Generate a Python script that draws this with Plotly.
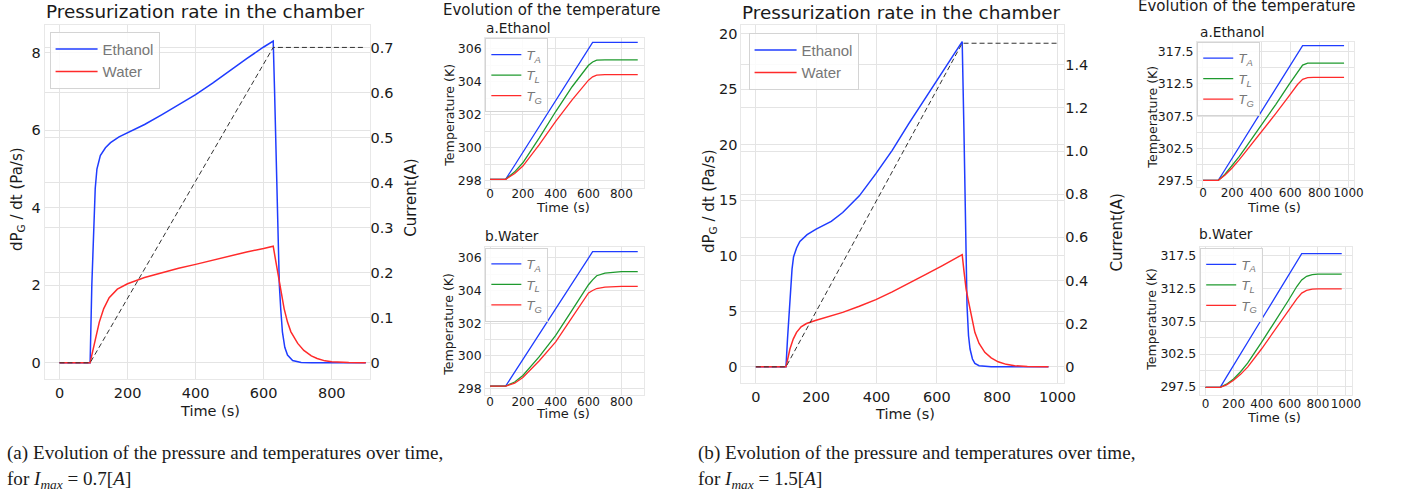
import plotly.graph_objects as go

W, H = 1411, 498

# ---- (a) I_max = 0.7 A : pressurization rate ----
t_eth_a = [0, 90, 95, 100, 105, 110, 120, 135, 150, 175, 200, 250, 300, 350, 400, 450, 500, 550, 600, 628,
           632, 636, 641, 646, 650, 655, 662, 670, 685, 710, 740, 900]
dp_eth_a = [0, 0, 2.0, 3.6, 4.5, 5.0, 5.35, 5.55, 5.68, 5.83, 5.94, 6.15, 6.4, 6.65, 6.92, 7.22, 7.54, 7.85, 8.15, 8.3,
            7.0, 5.5, 3.4, 2.0, 1.4, 0.8, 0.4, 0.2, 0.06, 0.01, 0, 0]
t_wat_a = [0, 90, 95, 102, 110, 117, 130, 146, 170, 200, 250, 300, 350, 400, 450, 500, 550, 600, 628,
           635, 641, 650, 660, 670, 680, 700, 718, 740, 757, 780, 800, 850, 900]
dp_wat_a = [0, 0, 0.2, 0.45, 0.75, 1.05, 1.4, 1.68, 1.9, 2.04, 2.2, 2.33, 2.44, 2.54, 2.65, 2.76, 2.86, 2.95, 3.01,
            2.65, 2.34, 1.85, 1.4, 1.05, 0.8, 0.5, 0.32, 0.18, 0.11, 0.05, 0.03, 0.01, 0]
t_cur_a = [0, 90, 628, 898]
cur_a = [0, 0, 0.7, 0.7]

# ---- (a) temperatures ----
t_temp_a = [0, 95, 150, 200, 300, 400, 500, 600, 625, 640, 650, 700, 750, 800, 900]
ta_eth_a = [298.1, 298.1, 298.95, 299.73, 301.29, 302.86, 304.42, 305.99, 306.38, 306.38, 306.38, 306.38, 306.38, 306.38, 306.38]
tl_eth_a = [298.1, 298.1, 298.55, 299.1, 300.6, 302.2, 303.7, 305.0, 305.2, 305.28, 305.31, 305.33, 305.33, 305.33, 305.33]
tg_eth_a = [298.1, 298.1, 298.45, 298.9, 300.2, 301.6, 302.9, 304.1, 304.3, 304.38, 304.4, 304.43, 304.43, 304.43, 304.43]
ta_wat_a = [298.15, 298.15, 299.0, 299.77, 301.33, 302.89, 304.45, 306.01, 306.37, 306.37, 306.37, 306.37, 306.37, 306.37, 306.37]
tl_wat_a = [298.15, 298.15, 298.4, 298.8, 299.95, 301.25, 302.8, 304.35, 304.65, 304.82, 304.9, 305.06, 305.12, 305.15, 305.15]
tg_wat_a = [298.15, 298.15, 298.33, 298.68, 299.7, 300.85, 302.35, 303.85, 304.0, 304.08, 304.12, 304.2, 304.24, 304.25, 304.25]

# ---- (b) I_max = 1.5 A : pressurization rate ----
t_eth_b = [0, 100, 105, 110, 115, 120, 125, 135, 146, 170, 200, 250, 288, 343, 398, 452, 507, 562, 617, 684,
           690, 695, 700, 705, 710, 718, 726, 740, 760, 780, 970]
dp_eth_b = [0, 0, 2.5, 5.0, 7.2, 8.8, 9.9, 10.7, 11.3, 11.9, 12.4, 13.1, 13.9, 15.4, 17.4, 19.5, 21.9, 24.2, 26.6, 29.3,
            21.0, 12.5, 5.5, 2.8, 1.6, 0.7, 0.3, 0.1, 0.02, 0, 0]
t_wat_b = [0, 100, 105, 113, 124, 135, 150, 168, 200, 250, 288, 343, 398, 452, 507, 562, 617, 684,
           690, 697, 704, 715, 726, 740, 759, 780, 803, 830, 858, 900, 970]
dp_wat_b = [0, 0, 0.6, 1.6, 2.5, 3.1, 3.6, 3.9, 4.2, 4.6, 4.9, 5.45, 6.05, 6.75, 7.5, 8.3, 9.1, 10.1,
            8.6, 7.0, 6.0, 4.4, 3.1, 2.1, 1.3, 0.8, 0.45, 0.22, 0.1, 0.03, 0]
t_cur_b = [0, 100, 684, 1005]
cur_b = [0, 0, 1.5, 1.5]

# ---- (b) temperatures ----
t_temp_b = [0, 105, 150, 200, 250, 300, 400, 500, 591, 650, 685, 720, 760, 800, 970]
ta_eth_b = [297.6, 297.6, 299.2, 301.0, 302.8, 304.6, 308.1, 311.7, 314.9, 317.0, 318.4, 318.4, 318.4, 318.4, 318.4]
tl_eth_b = [297.6, 297.6, 298.5, 299.9, 301.3, 302.9, 306.0, 309.3, 312.4, 314.4, 315.4, 315.7, 315.7, 315.7, 315.7]
tg_eth_b = [297.6, 297.6, 298.4, 299.5, 300.8, 302.2, 305.0, 307.9, 310.6, 312.4, 313.2, 313.45, 313.5, 313.5, 313.5]
ta_wat_b = [297.4, 297.4, 299.0, 300.8, 302.6, 304.3, 307.8, 311.3, 314.5, 316.6, 317.8, 317.8, 317.8, 317.8, 317.8]
tl_wat_b = [297.4, 297.4, 297.9, 298.7, 299.8, 301.1, 304.3, 307.6, 310.7, 312.8, 313.8, 314.35, 314.6, 314.7, 314.7]
tg_wat_b = [297.4, 297.4, 297.8, 298.5, 299.4, 300.5, 303.3, 306.4, 309.1, 310.9, 311.8, 312.2, 312.4, 312.45, 312.45]

BLUE, RED, GREEN = "#1f3cff", "#ff2a2a", "#1f9a2e"
GRID = "#e4e4e4"
TXT = "#1a1a1a"
FONT = "DejaVu Sans"


def dx(a, b):
    return [a / W, b / W]


def dy(top, bottom):
    return [1 - bottom / H, 1 - top / H]


fig = go.Figure()


def line(x, y, color, name, xa, ya, leg, dash=None, width=1.5, show=True):
    fig.add_trace(go.Scatter(x=x, y=y, mode="lines", name=name, legendgroup=name + leg,
                             line=dict(color=color, width=width, dash=dash),
                             xaxis=xa, yaxis=ya, legend=leg, showlegend=show))


# main charts
line(t_eth_a, dp_eth_a, BLUE, "Ethanol", "x", "y", "legend")
line(t_wat_a, dp_wat_a, RED, "Water", "x", "y", "legend")
line(t_cur_a, cur_a, "#333333", "I", "x", "y2", "legend", dash="5px,3px", width=1, show=False)

line(t_eth_b, dp_eth_b, BLUE, "Ethanol", "x2", "y3", "legend2")
line(t_wat_b, dp_wat_b, RED, "Water", "x2", "y3", "legend2")
line(t_cur_b, cur_b, "#333333", "I", "x2", "y4", "legend2", dash="5px,3px", width=1, show=False)

# temperature charts
TA, TL, TG = "<i>T<sub>A</sub></i>", "<i>T<sub>L</sub></i>", "<i>T<sub>G</sub></i>"
for xa, ya, leg, tt, a, l, g in [
    ("x3", "y5", "legend3", t_temp_a, ta_eth_a, tl_eth_a, tg_eth_a),
    ("x4", "y6", "legend4", t_temp_a, ta_wat_a, tl_wat_a, tg_wat_a),
    ("x5", "y7", "legend5", t_temp_b, ta_eth_b, tl_eth_b, tg_eth_b),
    ("x6", "y8", "legend6", t_temp_b, ta_wat_b, tl_wat_b, tg_wat_b),
]:
    line(tt, a, BLUE, TA, xa, ya, leg, width=1.3)
    line(tt, l, GREEN, TL, xa, ya, leg, width=1.3)
    line(tt, g, RED, TG, xa, ya, leg, width=1.3)


def ax(**kw):
    base = dict(showgrid=True, gridcolor=GRID, gridwidth=1, zeroline=False, showline=True,
                linecolor="#e8e8e8", mirror=True, ticks="", color=TXT, tickangle=0,
                tickfont=dict(family=FONT, size=14.5, color=TXT))
    base.update(kw)
    return base


small_font = dict(family=FONT, size=12.5, color=TXT)
small_xfont = dict(family=FONT, size=12, color=TXT)

layout = dict(
    width=W, height=H, autosize=False, margin=dict(l=0, r=0, t=0, b=0),
    paper_bgcolor="white", plot_bgcolor="white", font=dict(family=FONT, color=TXT),
    # (a) main
    xaxis=ax(domain=dx(45, 372.7), anchor="y", range=[-43.7, 911], dtick=200, tick0=0),
    yaxis=ax(domain=dy(25, 381), anchor="x", range=[-0.43, 8.72], tickvals=[0, 2, 4, 6, 8]),
    yaxis2=ax(anchor="x", overlaying="y", side="right", range=[-0.037, 0.75], mirror=False, showline=False,
              tickvals=[0, 0.1, 0.2, 0.3, 0.4, 0.5, 0.6, 0.7],
              ticktext=["0", "0.1", "0.2", "0.3", "0.4", "0.5", "0.6", "0.7"]),
    # (b) main
    xaxis2=ax(domain=dx(747.7, 1073.3), anchor="y3", range=[-48, 1022], dtick=200, tick0=0),
    yaxis3=ax(domain=dy(25, 385), anchor="x2", range=[-1.5, 30.8], tickvals=[0, 5, 10, 15, 20, 25, 30],
              ticktext=["0", "5", "10", "15", "20", "25", "20"]),
    yaxis4=ax(anchor="x2", overlaying="y3", side="right", range=[-0.077, 1.585], mirror=False, showline=False,
              tickvals=[0, 0.2, 0.4, 0.6, 0.8, 1.0, 1.2, 1.4],
              ticktext=["0", "0.2", "0.4", "0.6", "0.8", "1.0", "1.2", "1.4"]),
    # (a) temperatures
    xaxis3=ax(domain=dx(489.3, 650), anchor="y5", range=[-30, 941], dtick=200, tick0=0, tickfont=small_xfont,
              ticklabelstandoff=-5),
    yaxis5=ax(domain=dy(38.3, 188.3), anchor="x3", range=[297.6, 306.64], dtick=2, tick0=298, tickfont=small_font,
              minor=dict(dtick=1, showgrid=True, gridcolor=GRID)),
    xaxis4=ax(domain=dx(489.3, 650), anchor="y6", range=[-30, 941], dtick=200, tick0=0, tickfont=small_xfont,
              ticklabelstandoff=-5),
    yaxis6=ax(domain=dy(248.3, 396.7), anchor="x4", range=[297.6, 306.64], dtick=2, tick0=298, tickfont=small_font,
              minor=dict(dtick=1, showgrid=True, gridcolor=GRID)),
    # (b) temperatures
    xaxis5=ax(domain=dx(1207.3, 1366), anchor="y7", range=[-41, 1041], dtick=200, tick0=0, tickfont=small_xfont,
              ticklabelstandoff=-5),
    yaxis7=ax(domain=dy(41.7, 187.3), anchor="x5", range=[296.64, 319.04], dtick=5, tick0=297.5,
              tickfont=small_font, tickformat=".1f", minor=dict(dtick=2.5, showgrid=True, gridcolor=GRID)),
    xaxis6=ax(domain=dx(1210, 1363.3), anchor="y8", range=[-41, 1041], dtick=200, tick0=0, tickfont=small_xfont,
              ticklabelstandoff=-3),
    yaxis8=ax(domain=dy(248.3, 396.7), anchor="x6", range=[296.23, 318.78], dtick=5, tick0=297.5,
              tickfont=small_font, tickformat=".1f", minor=dict(dtick=2.5, showgrid=True, gridcolor=GRID)),
)


def legend_at(px, py, size, width, gap):
    return dict(x=px / W, y=1 - py / H, xanchor="left", yanchor="top",
                bgcolor="rgba(255,255,255,0.85)", bordercolor="#d4d4d4", borderwidth=1,
                font=dict(family="Liberation Sans", size=size, color="#777777"),
                tracegroupgap=gap, itemwidth=width)


layout["legend"] = legend_at(50, 32, 15, 42, 0)
layout["legend2"] = legend_at(755, 33, 15, 42, 0)
layout["legend3"] = legend_at(489.5, 38.5, 13.5, 30, 0)
layout["legend4"] = legend_at(489.5, 248.5, 13.5, 30, 0)
layout["legend5"] = legend_at(1207.5, 42, 13.5, 30, 0)
layout["legend6"] = legend_at(1210.5, 249, 13.5, 30, 0)

fig.update_layout(**layout)


def note(text, px, py, size, xanchor="center", angle=0, family=FONT):
    fig.add_annotation(text=text, x=px / W, y=1 - py / H, xref="paper", yref="paper",
                       xanchor=xanchor, yanchor="middle", showarrow=False, textangle=angle,
                       font=dict(family=family, size=size, color=TXT))


# main titles / axis titles
note("Pressurization rate in the chamber", 207.5, 12, 18.4)
note("Pressurization rate in the chamber", 909, 13, 18.4)
note("dP<sub>G</sub> / dt (Pa/s)", 17, 200, 15, angle=-90)
note("dP<sub>G</sub> / dt (Pa/s)", 715, 202, 15, angle=-90)
note("Current(A)", 415, 198, 15, angle=-90)
note("Current(A)", 1127, 233, 15, angle=-90)
note("Time (s)", 212, 413, 14.5)
note("Time (s)", 913, 416, 14.5)

# temperature panels
note("Evolution of the temperature", 557, 10, 15)
note("Evolution of the temperature", 1258, 6, 15)
note("a.Ethanol", 488, 28, 13.7, xanchor="left")
note("b.Water", 487, 237, 13.7, xanchor="left")
note("a.Ethanol", 1208, 32, 13.7, xanchor="left")
note("b.Water", 1207, 235, 13.7, xanchor="left")
for px, py in [(453, 116), (453, 326), (1162, 118), (1162, 321)]:
    note("Temperature (K)", px, py, 12.6, angle=-90)
for px, py in [(568, 208), (568, 415), (1285, 208), (1285, 419)]:
    note("Time (s)", px, py, 13)

# captions
SERIF = "Liberation Serif"
note("(a) Evolution of the pressure and temperatures over time,", 5, 455, 19.1, xanchor="left", family=SERIF)
note("for <i>I<sub>max</sub></i> = 0.7[<i>A</i>]", 5, 482, 19.1, xanchor="left", family=SERIF)
note("(b) Evolution of the pressure and temperatures over time,", 702, 455, 19.1, xanchor="left", family=SERIF)
note("for <i>I<sub>max</sub></i> = 1.5[<i>A</i>]", 702, 482, 19.1, xanchor="left", family=SERIF)

fig.write_html("out.html", config={"displayModeBar": False},
               post_script="document.body.style.margin='0';")
